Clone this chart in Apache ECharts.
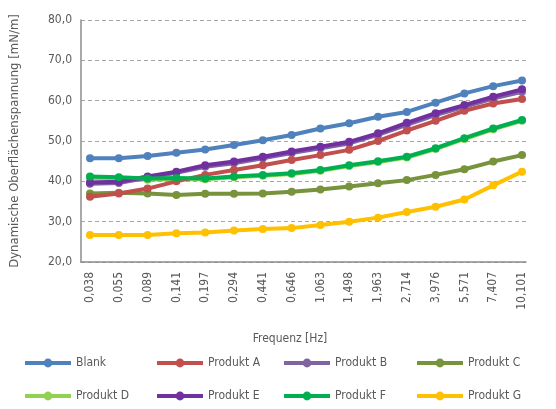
<!DOCTYPE html>
<html><head><meta charset="utf-8">
<script src="https://cdn.jsdelivr.net/npm/echarts@6/dist/echarts.min.js"></script>
<style>html,body{margin:0;padding:0;background:#fff}#c{width:556px;height:409px}</style>
</head><body><div id="c"></div>
<script>
const categories = ['0,038','0,055','0,089','0,141','0,197','0,294','0,441','0,646','1,063','1,498','1,963','2,714','3,976','5,571','7,407','10,101'];
const yTicks = { min: 20, max: 80, interval: 10 };
const seriesNames = ['Blank','Produkt A','Produkt B','Produkt C','Produkt D','Produkt E','Produkt F','Produkt G'];
const seriesColors = ['#4F81BD','#C0504D','#8064A2','#77933C','#92D050','#7030A0','#00B050','#FFC000'];
const blank    = [45.7,45.7,46.3,47.1,47.9,49.0,50.2,51.5,53.1,54.4,56.0,57.2,59.5,61.8,63.6,65.0];
const produktA = [36.2,37.0,38.2,40.0,41.6,42.8,44.0,45.3,46.5,47.8,50.0,52.6,55.0,57.5,59.3,60.4];
const produktB = [39.4,39.6,40.9,42.1,43.6,44.5,45.7,47.0,48.2,49.4,51.5,54.0,56.4,58.5,60.5,62.2];
const produktC = [37.0,37.2,37.0,36.6,36.9,36.9,37.0,37.4,38.0,38.7,39.5,40.3,41.6,43.0,44.9,46.5];
const produktD = [40.8,40.6,40.4,40.5,40.5,41.0,41.4,41.8,42.6,43.8,44.8,45.9,48.0,50.5,52.9,55.0];
const produktE = [39.7,39.9,41.2,42.4,44.0,44.9,46.1,47.4,48.6,49.8,51.9,54.5,56.9,58.9,61.0,62.8];
const produktF = [41.2,41.0,40.7,40.8,40.7,41.2,41.6,42.0,42.8,44.0,45.0,46.1,48.2,50.7,53.1,55.2];
const produktG = [26.7,26.7,26.7,27.1,27.3,27.8,28.2,28.4,29.2,30.0,31.0,32.4,33.7,35.5,39.0,42.4];
const seriesData = [blank, produktA, produktB, produktC, produktD, produktE, produktF, produktG];
const xTitle = 'Frequenz [Hz]';
const yTitle = 'Dynamische Oberflächenspannung [mN/m]';

const FONT = '"DejaVu Sans Condensed","Liberation Sans Narrow","Liberation Sans",sans-serif';
const TXT = '#595959';
const FS = 12;
const chart = echarts.init(document.getElementById('c'), null, {renderer:'canvas'});

const legendLefts = [23, 155, 282, 415];
const legends = seriesNames.map((n, i) => ({
  data: [n], left: legendLefts[i % 4], top: i < 4 ? 357 : 390,
  padding: 0,
  itemWidth: 46, itemHeight: 11, itemGap: 7,
  textStyle: { fontFamily: FONT, fontSize: FS, color: TXT },
  lineStyle: { width: 4 },
  selectedMode: false
}));

const option = {
  animation: false,
  textStyle: { fontFamily: FONT },
  legend: legends,
  title: [{
    text: xTitle, left: 285, top: 328, textAlign: 'center',
    textStyle: { fontFamily: FONT, fontSize: FS, fontWeight: 'normal', color: TXT }
  }],
  grid: [
    { left: 79, right: 30, top: 20, bottom: 147, containLabel: false },
    { left: 90, right: 34, top: 20, bottom: 147, containLabel: false }
  ],
  xAxis: [
    { gridIndex: 0, type: 'value', min: 0, max: 1, show: true,
      axisLine: { show: true, lineStyle: { color: '#8C8C8C', width: 1.5 } },
      axisTick: { show: false }, axisLabel: { show: false }, splitLine: { show: false } },
    { gridIndex: 1, type: 'category', data: categories, boundaryGap: false,
      axisLine: { show: false }, axisTick: { show: false }, splitLine: { show: false },
      axisLabel: { rotate: 90, margin: 10, fontFamily: FONT, fontSize: FS, color: TXT, interval: 0 } }
  ],
  yAxis: [
    { gridIndex: 0, type: 'value', min: yTicks.min, max: yTicks.max, interval: yTicks.interval,
      name: yTitle, nameLocation: 'middle', nameGap: 60, nameRotate: 90,
      nameTextStyle: { fontFamily: FONT, fontSize: 13, color: TXT },
      axisLine: { show: true, lineStyle: { color: '#8C8C8C', width: 1.5 } },
      axisTick: { show: false },
      axisLabel: { margin: 9, fontFamily: FONT, fontSize: FS, color: TXT,
        formatter: v => v.toFixed(1).replace('.', ',') },
      splitLine: { show: true, lineStyle: { color: '#A6A6A6', type: [4, 3], width: 1.2 } } },
    { gridIndex: 1, type: 'value', min: yTicks.min, max: yTicks.max, show: false }
  ],
  series: seriesNames.map((n, i) => ({
    name: n, type: 'line', xAxisIndex: 1, yAxisIndex: 1,
    data: seriesData[i], symbol: 'circle', symbolSize: 8,
    lineStyle: { width: 4, color: seriesColors[i] },
    itemStyle: { color: seriesColors[i] }
  }))
};
const order = [4, 2, 3, 1, 0, 5, 6, 7];
option.series.forEach((s, i) => { s.z = 2 + order.indexOf(i) * 0.01; });
chart.setOption(option);
</script></body></html>
